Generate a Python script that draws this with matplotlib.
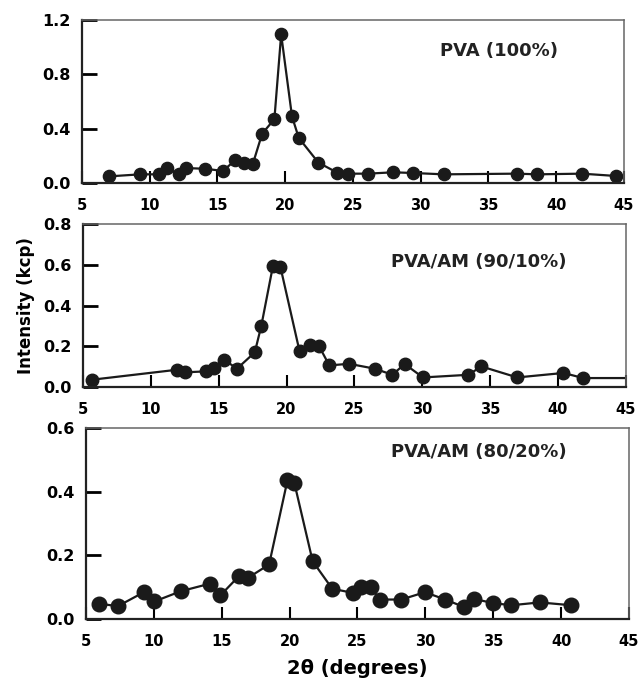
import matplotlib
matplotlib.use("Agg")
import matplotlib.pyplot as plt
import numpy as np

# PVA (100%)
x_pva = [7.0, 9.3, 10.7, 11.25, 12.15, 12.7, 14.1, 15.4, 16.3, 16.95, 17.6, 18.3, 19.2,
         19.7, 20.5, 21.0, 22.45, 23.85, 24.6, 26.1, 27.97, 29.4, 31.7, 37.1, 38.6, 41.9, 44.4]
y_pva = [0.049, 0.064, 0.064, 0.11, 0.064, 0.11, 0.105, 0.089, 0.167, 0.147, 0.138, 0.364, 0.47,
         1.094, 0.49, 0.332, 0.15, 0.076, 0.069, 0.069, 0.079, 0.074, 0.064, 0.069, 0.064, 0.069, 0.052]

# PVA/AM (90/10%)  (last point: line runs on to the frame, no marker)
x_90 = [5.69, 11.96, 12.5, 14.1, 14.66, 15.4, 16.35, 17.66, 18.14, 19.0, 19.55, 20.96, 21.7,
        22.4, 23.15, 24.6, 26.5, 27.8, 28.7, 30.05, 33.4, 34.35, 37.0, 40.4, 41.86, 46.0]
y_90 = [0.036, 0.085, 0.072, 0.077, 0.093, 0.134, 0.09, 0.17, 0.30, 0.595, 0.589, 0.175, 0.208,
        0.2, 0.106, 0.114, 0.09, 0.06, 0.113, 0.047, 0.06, 0.101, 0.047, 0.069, 0.044, 0.044]

# PVA/AM (80/20%)
x_80 = [5.99, 7.34, 9.26, 10.04, 11.98, 14.14, 14.9, 16.3, 16.93, 18.49, 19.84, 20.35, 21.7,
        23.14, 24.64, 25.24, 25.98, 26.64, 28.23, 29.97, 31.47, 32.88, 33.57, 34.98, 36.33, 38.43, 40.76]
y_80 = [0.048, 0.040, 0.084, 0.055, 0.087, 0.111, 0.074, 0.136, 0.129, 0.171, 0.435, 0.427, 0.181,
        0.095, 0.082, 0.1, 0.1, 0.061, 0.061, 0.084, 0.061, 0.037, 0.063, 0.05, 0.043, 0.052, 0.043]

labels = ["PVA (100%)", "PVA/AM (90/10%)", "PVA/AM (80/20%)"]
ylims = [1.2, 0.8, 0.6]
yticks = [[0, 0.4, 0.8, 1.2], [0, 0.2, 0.4, 0.6, 0.8], [0, 0.2, 0.4, 0.6]]
xticks = list(range(5, 50, 5))

plt.rcParams['font.family'] = ['DejaVu Sans']
plt.rcParams['font.weight'] = 'bold'

fig = plt.figure(figsize=(6.38, 6.85), dpi=100)
# [left, bottom, width, height]
rects = [[0.1285, 0.7328, 0.8495, 0.238],
         [0.130, 0.435, 0.851, 0.238],
         [0.1348, 0.0964, 0.851, 0.279]]
xs = [x_pva, x_90, x_80]
ys = [y_pva, y_90, y_80]
msizes = [8.8, 9.0, 10.5]
txt_pos = [(40.1, 0.975), (40.6, 0.615), (40.4, 0.523)]

for i in range(3):
    ax = fig.add_axes(rects[i])
    n = len(xs[i])
    mk = list(range(n - 1)) if i == 1 else None
    ax.plot(xs[i], ys[i], '-o', color='#1a1a1a', lw=1.6, ms=msizes[i], markevery=mk)
    ax.set_xlim(5, 45)
    ax.set_ylim(0, ylims[i])
    ax.set_xticks(xticks)
    ax.set_yticks(yticks[i])
    ax.set_yticklabels(["%.1f" % v for v in yticks[i]])
    ax.tick_params(axis='x', direction='in', length=9, width=1.5, pad=11, labelsize=10.5)
    ax.tick_params(axis='y', direction='in', length=11, width=2, pad=8, labelsize=11.5)
    for lab in ax.get_xticklabels() + ax.get_yticklabels():
        lab.set_fontweight('bold')
    for s in ['left', 'bottom']:
        ax.spines[s].set_linewidth(1.6)
        ax.spines[s].set_color('#222222')
    for s in ['top', 'right']:
        ax.spines[s].set_linewidth(1.1)
        ax.spines[s].set_color('#666666')
    ax.text(txt_pos[i][0], txt_pos[i][1], labels[i], ha='right', va='center',
            fontsize=13, fontweight='bold', color='#222222')
    if i == 1:
        ax.set_ylabel("Intensity (kcp)", fontsize=12, fontweight='bold', labelpad=6)
    if i == 2:
        ax.set_xlabel("2\u03b8 (degrees)", fontsize=14, fontweight='bold', labelpad=7)

fig.savefig("out.png", dpi=100)
